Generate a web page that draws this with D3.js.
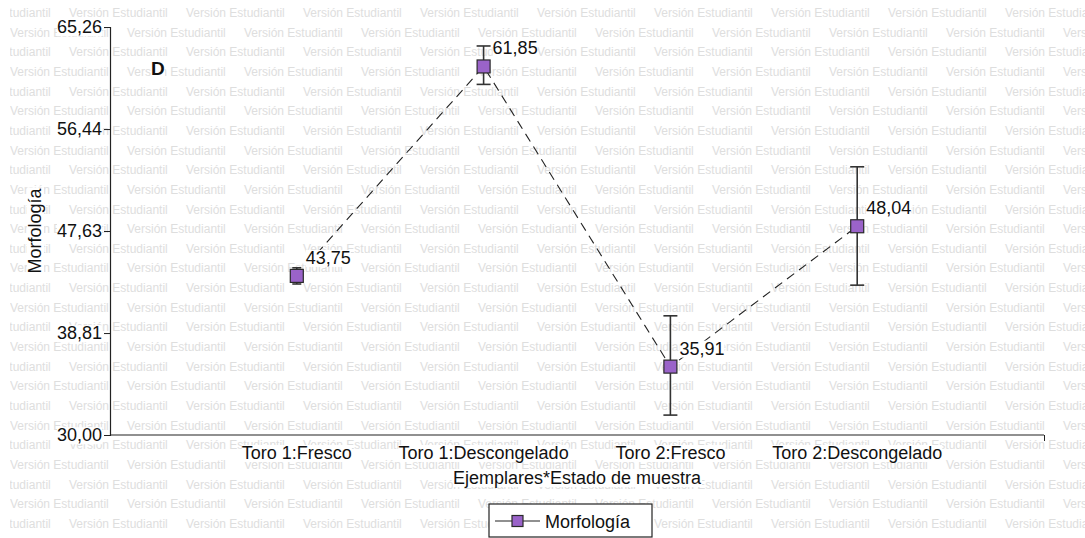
<!DOCTYPE html>
<html>
<head>
<meta charset="utf-8">
<script src="https://cdn.jsdelivr.net/npm/d3@7"></script>
<style>
  html, body { margin: 0; padding: 0; background: #fff; }
  svg { display: block; font-family: "Liberation Sans", Arial, sans-serif; }
</style>
</head>
<body>
<svg id="chart" width="1085" height="538"></svg>
<script>
// Means and 95% intervals of the morphology score per bull and sample state
const categories = ["Toro 1:Fresco", "Toro 1:Descongelado", "Toro 2:Fresco", "Toro 2:Descongelado"];
const means = [43.75, 61.85, 35.91, 48.04];
const lowerCI = [43.05, 60.30, 31.72, 42.95];
const upperCI = [44.45, 63.62, 40.30, 53.18];
const yTicks = [30.00, 38.81, 47.63, 56.44, 65.26];
const yTickLabels = ["30,00", "38,81", "47,63", "56,44", "65,26"];
const valueLabels = ["43,75", "61,85", "35,91", "48,04"];
const seriesName = "Morfología";
const panelLetter = "D";
const xTitle = "Ejemplares*Estado de muestra";
const yTitle = "Morfología";
const watermark = "Versión Estudiantil";

const svg = d3.select("#chart");
const W = 1085, H = 538;
const plotLeft = 110, plotRight = 1044, plotTop = 27, plotBottom = 435;

// Background watermark rows
const wm = svg.append("g");
svg.append("defs").append("clipPath").attr("id", "wmclip")
  .append("rect").attr("x", 10).attr("y", 0).attr("width", W - 10).attr("height", H);
wm.attr("clip-path", "url(#wmclip)");
const rowStep = 19.65, period = 117;
for (let r = 0; r < 28; r++) {
  const yy = 13 + r * rowStep;
  const offset = (r % 2 === 0) ? 69 - period : 10;
  for (let xx = offset; xx < W; xx += period) {
    wm.append("text")
      .attr("x", xx).attr("y", yy + 4)
      .attr("font-size", 12)
      .attr("fill", "#dedede")
      .text(watermark);
  }
}

// Scales
const x = d3.scaleLinear().domain([0, categories.length + 1]).range([plotLeft, plotRight]);
const y = d3.scaleLinear().domain([30.00, 65.26]).range([plotBottom, plotTop]);

// Chart labels sit on a white box that masks the watermark
function backWhite(sel) {
  sel.each(function () {
    const b = this.getBBox();
    const r = document.createElementNS("http://www.w3.org/2000/svg", "rect");
    r.setAttribute("x", b.x);
    r.setAttribute("y", b.y + 2);
    r.setAttribute("width", b.width);
    r.setAttribute("height", b.height - 3);
    r.setAttribute("fill", "#fff");
    const tr = this.getAttribute("transform");
    if (tr) r.setAttribute("transform", tr);
    this.parentNode.insertBefore(r, this);
  });
}

// Y axis
const yAxis = svg.append("g")
  .attr("transform", `translate(${plotLeft},0)`)
  .call(d3.axisLeft(y).tickValues(yTicks).tickSize(6).tickPadding(2)
    .tickFormat((d, i) => yTickLabels[i]));
yAxis.select(".domain").attr("stroke", "#222").attr("stroke-width", 1.2);
yAxis.selectAll(".tick line").attr("stroke", "#222");
yAxis.selectAll(".tick text").attr("font-size", 18).attr("fill", "#111")
  .attr("font-family", "Liberation Sans, Arial, sans-serif");
backWhite(yAxis.selectAll(".tick text"));

// X axis with category labels
const xAxis = svg.append("g")
  .attr("transform", `translate(0,${plotBottom})`)
  .call(d3.axisBottom(x).tickValues([x.domain()[1]]).tickSize(6).tickFormat(""));
xAxis.select(".domain").attr("stroke", "#222").attr("stroke-width", 1.2)
  .attr("d", `M${plotLeft},0H${plotRight}`);
xAxis.selectAll(".tick line").attr("stroke", "#222");
const cats = xAxis.selectAll(".cat").data(categories).join("text")
  .attr("class", "cat")
  .attr("x", (d, i) => x(i + 1))
  .attr("y", 24)
  .attr("text-anchor", "middle")
  .attr("font-size", 18)
  .attr("fill", "#111")
  .text(d => d);
backWhite(cats);

// Axis titles
const xt = svg.append("text")
  .attr("x", (plotLeft + plotRight) / 2).attr("y", 484)
  .attr("text-anchor", "middle").attr("font-size", 18).attr("fill", "#111")
  .text(xTitle);
backWhite(xt);
const yt = svg.append("text")
  .attr("transform", `translate(41,${(plotTop + plotBottom) / 2}) rotate(-90)`)
  .attr("text-anchor", "middle").attr("font-size", 18).attr("fill", "#111")
  .text(yTitle);
backWhite(yt);

// Panel letter
const pl = svg.append("text")
  .attr("x", 151).attr("y", 75)
  .attr("font-size", 19).attr("font-weight", "bold").attr("fill", "#111")
  .text(panelLetter);
backWhite(pl);

// Connecting dashed line
const line = d3.line().x((d, i) => x(i + 1)).y(d => y(d));
svg.append("path")
  .datum(means)
  .attr("d", line)
  .attr("fill", "none")
  .attr("stroke", "#222")
  .attr("stroke-width", 1.1)
  .attr("stroke-dasharray", "9,6");

// Error bars
const eb = svg.append("g").attr("stroke", "#333").attr("stroke-width", 1.6);
means.forEach((m, i) => {
  const cx = x(i + 1);
  const cap = (upperCI[i] - lowerCI[i]) < 2 ? 4.5 : 7;
  eb.append("line").attr("x1", cx).attr("x2", cx).attr("y1", y(upperCI[i])).attr("y2", y(lowerCI[i]));
  eb.append("line").attr("x1", cx - cap).attr("x2", cx + cap).attr("y1", y(upperCI[i])).attr("y2", y(upperCI[i]));
  eb.append("line").attr("x1", cx - cap).attr("x2", cx + cap).attr("y1", y(lowerCI[i])).attr("y2", y(lowerCI[i]));
});

// Markers
svg.selectAll(".pt").data(means).join("rect")
  .attr("class", "pt")
  .attr("x", (d, i) => x(i + 1) - 6.5)
  .attr("y", d => y(d) - 6.5)
  .attr("width", 13).attr("height", 13)
  .attr("fill", "#9a63c9")
  .attr("stroke", "#2a2a2a")
  .attr("stroke-width", 1.2);

// Value labels
const vals = svg.append("g").selectAll(".val").data(means).join("text")
  .attr("class", "val")
  .attr("x", (d, i) => x(i + 1) + 9)
  .attr("y", d => y(d) - 12)
  .attr("font-size", 18)
  .attr("fill", "#111")
  .text((d, i) => valueLabels[i]);
backWhite(vals);

// Legend
const lg = svg.append("g").attr("transform", "translate(489,504)");
lg.append("rect").attr("x", 0).attr("y", 0).attr("width", 163).attr("height", 33)
  .attr("fill", "#fff").attr("stroke", "#222").attr("stroke-width", 1.2);
lg.append("line").attr("x1", 6).attr("x2", 51).attr("y1", 17).attr("y2", 17)
  .attr("stroke", "#222").attr("stroke-width", 1.2);
lg.append("rect").attr("x", 23).attr("y", 11.5).attr("width", 11).attr("height", 11)
  .attr("fill", "#9a63c9").attr("stroke", "#2a2a2a").attr("stroke-width", 1.2);
lg.append("text").attr("x", 56).attr("y", 24).attr("font-size", 18).attr("fill", "#111")
  .text(seriesName);
</script>
</body>
</html>
